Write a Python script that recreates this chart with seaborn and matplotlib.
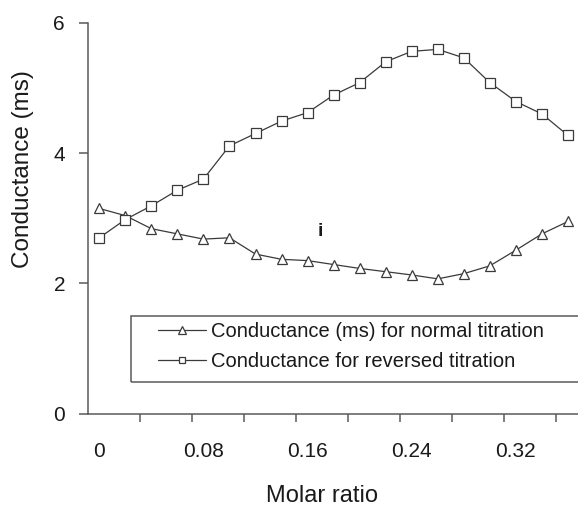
import numpy as np
import pandas as pd
import matplotlib
matplotlib.use("Agg")
import matplotlib.pyplot as plt
import seaborn as sns
from matplotlib.lines import Line2D
from matplotlib.patches import Rectangle
from matplotlib.ticker import FixedLocator

# ---------------- data ----------------
molar_ratio = [0.00, 0.02, 0.04, 0.06, 0.08, 0.10, 0.12, 0.14, 0.16, 0.18,
               0.20, 0.22, 0.24, 0.26, 0.28, 0.30, 0.32, 0.34, 0.36]
normal_titration = [3.15, 3.04, 2.84, 2.76, 2.68, 2.70, 2.45, 2.37, 2.35, 2.29,
                    2.23, 2.18, 2.13, 2.07, 2.15, 2.27, 2.51, 2.76, 2.95]
reversed_titration = [2.70, 2.98, 3.19, 3.43, 3.60, 4.11, 4.30, 4.49, 4.62, 4.89,
                      5.08, 5.40, 5.56, 5.59, 5.46, 5.08, 4.79, 4.60, 4.27]
series_names = ["Conductance (ms) for normal titration",
                "Conductance for reversed titration"]
x_label_values = [0, 0.08, 0.16, 0.24, 0.32]
x_tick_labels = ["0", "0.08", "0.16", "0.24", "0.32"]
y_ticks = [0, 2, 4, 6]

# ---------------- style ----------------
sns.set_theme(style="white")
plt.rcParams["font.family"] = ["Liberation Sans", "DejaVu Sans"]

LINE = "#3a3a3a"
SPINE = "#5a5a5a"
TEXT = "#1a1a1a"

df = pd.DataFrame({
    "x": molar_ratio + molar_ratio,
    "y": normal_titration + reversed_titration,
    "series": [series_names[0]] * len(molar_ratio) + [series_names[1]] * len(molar_ratio),
})

fig = plt.figure(figsize=(5.78, 5.08), dpi=100)
ax = fig.add_axes([0.1517, 0.1854, 0.8483, 0.7700])

sns.lineplot(data=df, x="x", y="y", hue="series", style="series",
             markers={series_names[0]: "^", series_names[1]: "s"},
             dashes=False, palette={series_names[0]: LINE, series_names[1]: LINE},
             markersize=7.5, markerfacecolor="white", markeredgecolor=LINE,
             markeredgewidth=0.9, linewidth=0.9, legend=False, ax=ax,
             clip_on=False, zorder=3)

ax.set_xlim(-0.0089, 0.3677)
ax.set_ylim(0, 6)

for s in ["top", "right"]:
    ax.spines[s].set_visible(False)
for s in ["left", "bottom"]:
    ax.spines[s].set_color(SPINE)
    ax.spines[s].set_linewidth(1.1)
ax.spines["left"].set_bounds(0, 6)

# x axis: labels (no marks) + separate tick marks
ax.xaxis.set_major_locator(FixedLocator(x_label_values))
ax.set_xticklabels(x_tick_labels)
ax.xaxis.set_minor_locator(FixedLocator(list(np.arange(10) * 0.04 - 0.009)))
ax.tick_params(axis="x", which="major", length=0, pad=20.5, labelsize=15, labelcolor=TEXT)
ax.tick_params(axis="x", which="minor", length=5.6, width=1.1, color=SPINE,
               direction="out", bottom=True)

ax.set_yticks(y_ticks)
ax.set_yticklabels([str(v) for v in y_ticks])
ax.tick_params(axis="y", which="major", length=6.8, width=1.1, color=SPINE,
               direction="out", left=True, pad=9.5, labelsize=15, labelcolor=TEXT)

ax.set_xlabel("Molar ratio", fontsize=17, color=TEXT)
ax.set_ylabel("Conductance (ms)", fontsize=17.5, color=TEXT)
ax.xaxis.set_label_coords(0.478, -0.183)
ax.yaxis.set_label_coords(-0.1105, 0.625)

ax.text(0.170, 2.79, "i", ha="center", va="center", fontsize=14,
        fontweight="bold", color=TEXT)

# legend
handles = [
    Line2D([], [], color=LINE, lw=0.9, marker="^", ms=5.5, mfc="white", mec=LINE, mew=0.9),
    Line2D([], [], color=LINE, lw=0.9, marker="s", ms=5, mfc="white", mec=LINE, mew=0.9),
]
ax.legend(handles, series_names, loc="upper left", bbox_to_anchor=(0.1428, 0.2355),
          frameon=False, borderpad=0, borderaxespad=0, handlelength=2.4,
          handletextpad=0.25, labelspacing=0.58, fontsize=14.5, labelcolor=TEXT)
ax.add_patch(Rectangle((0.0883, 0.0813), 0.93, 0.1687, transform=ax.transAxes,
                       fill=False, edgecolor=SPINE, lw=1.1, clip_on=False, zorder=4))

fig.savefig("out.png", dpi=100)
